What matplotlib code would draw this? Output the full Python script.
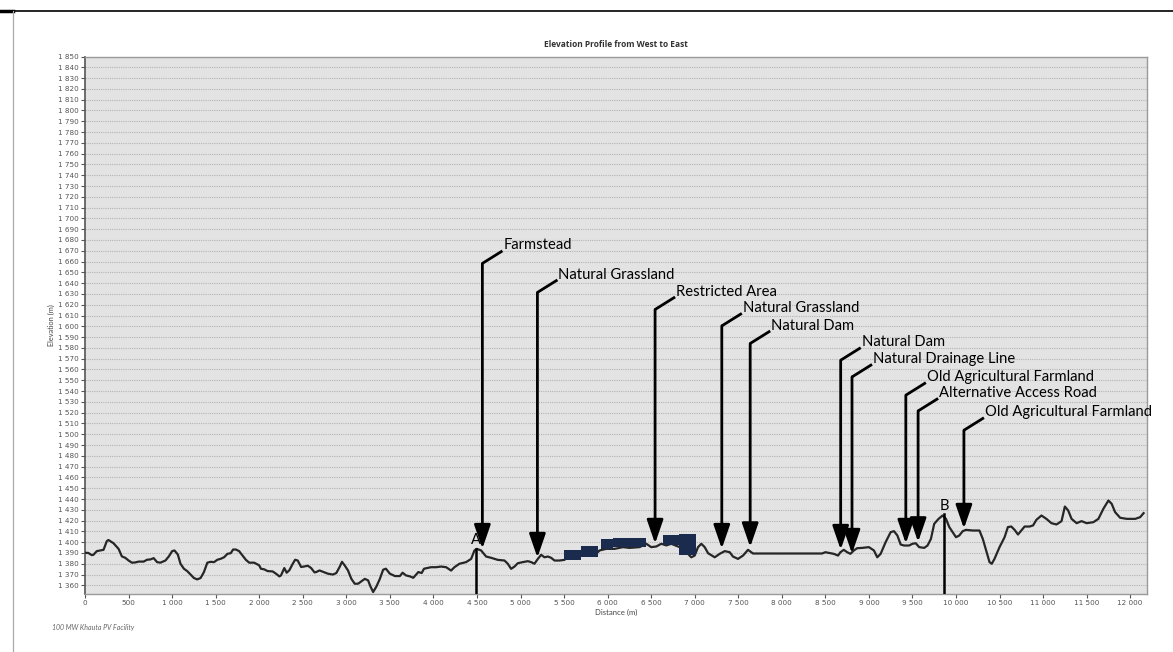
import numpy as np
import matplotlib
matplotlib.use('Agg')
import matplotlib.pyplot as plt
from matplotlib.ticker import FuncFormatter, MultipleLocator

# profile (distance m, elevation m)
distance = [0, 38, 77, 96, 135, 173, 212, 250, 269, 327, 385, 423, 462, 500, 538, 577, 615, 673,
            712, 750, 788, 827, 865, 923, 962, 1000, 1027, 1065, 1096, 1135, 1173, 1212, 1250, 1288,
            1327, 1365, 1404, 1442, 1481, 1519, 1558, 1596, 1635, 1673, 1700, 1731, 1769, 1808, 1846,
            1885, 1942, 2000, 2019, 2058, 2096, 2154, 2192, 2231, 2250, 2288, 2315, 2346, 2385, 2412,
            2442, 2481, 2519, 2558, 2596, 2635, 2654, 2692, 2731, 2788, 2846, 2885, 2923, 2950, 2981,
            3019, 3058, 3096, 3135, 3173, 3212, 3250, 3277, 3308, 3346, 3385, 3423, 3454, 3500, 3558,
            3615, 3646, 3685, 3731, 3769, 3827, 3865, 3892, 3973, 4031, 4088, 4146, 4203, 4241, 4299,
            4375, 4433, 4471, 4498, 4548, 4605, 4663, 4739, 4816, 4854, 4892, 4931, 4969, 5026, 5084,
            5122, 5160, 5199, 5237, 5275, 5314, 5352, 5390, 5448, 5505, 5543, 5639, 5735, 5812, 5869,
            5907, 5984, 6080, 6176, 6252, 6367, 6444, 6501, 6559, 6616, 6674, 6731, 6827, 6904, 6961,
            7000, 7038, 7076, 7115, 7153, 7230, 7287, 7345, 7402, 7439, 7497, 7555, 7612, 7670, 8462,
            8500, 8538, 8596, 8646, 8673, 8712, 8750, 8788, 8827, 8865, 8923, 9000, 9058, 9096, 9135,
            9192, 9250, 9288, 9327, 9365, 9404, 9462, 9500, 9538, 9577, 9635, 9673, 9712, 9750, 9800,
            9846, 9885, 9923, 9962, 10000, 10038, 10077, 10115, 10192, 10269, 10308, 10346, 10385,
            10411, 10442, 10500, 10558, 10596, 10635, 10673, 10712, 10750, 10788, 10846, 10885, 10923,
            10981, 11038, 11096, 11154, 11212, 11250, 11288, 11327, 11385, 11442, 11500, 11577, 11635,
            11692, 11750, 11788, 11827, 11885, 11962, 12058, 12115, 12154]
elevation = [1390.2, 1390, 1388, 1388.3, 1391.7, 1392.3, 1392.9, 1401, 1402, 1399, 1393.8, 1386.8,
             1385.5, 1383, 1381, 1381.2, 1382, 1382, 1383.7, 1384, 1385.2, 1381.5, 1381, 1383, 1386.8,
             1391.7, 1392.3, 1388.6, 1380, 1375.4, 1373.2, 1370, 1366.8, 1365.5, 1366.8, 1372.3, 1381,
             1381.8, 1381.5, 1383.7, 1384.6, 1386, 1389.2, 1389.8, 1393.2, 1393.2, 1391.7, 1387.7,
             1383.7, 1381, 1381, 1378.5, 1375.4, 1374.8, 1373.2, 1372.9, 1370.8, 1368.3, 1369.2, 1376,
             1371.7, 1374, 1380, 1383.7, 1383, 1377, 1377.5, 1378.2, 1376, 1372, 1372.3, 1373.8, 1372.6,
             1370.8, 1370, 1371.4, 1377, 1381.8, 1378.5, 1373.8, 1366, 1361.5, 1361.5, 1363.7, 1366,
             1364.6, 1359, 1353.8, 1359, 1366, 1374.5, 1375.4, 1370.8, 1368.6, 1368.6, 1371.7, 1369.2,
             1368.3, 1367, 1372.3, 1371.4, 1375.4, 1376.8, 1376.8, 1377.4, 1376.8, 1373.7, 1376.8, 1380,
             1381.5, 1384.5, 1392.3, 1393.8, 1392.3, 1386.7, 1385.5, 1383.6, 1383, 1380, 1375.3, 1377.4,
             1380.5, 1381.5, 1382.4, 1381.5, 1380, 1384.5, 1388.3, 1386, 1386.7, 1385.5, 1383, 1383,
             1383.6, 1386.7, 1387.6, 1389.2, 1389.2, 1389.2, 1392.3, 1393.8, 1393.8, 1395.4, 1394.7,
             1395.4, 1398.5, 1395.4, 1396, 1398.5, 1397, 1398.5, 1395.4, 1390.7, 1386, 1387.6, 1395.4,
             1398.5, 1395.4, 1389.8, 1386, 1389.2, 1391.7, 1390.7, 1386.7, 1384.5, 1387.6, 1392.9,
             1389.5, 1389.5, 1390.7, 1390.1, 1389.2, 1387.6, 1390.7, 1392.9, 1390.7, 1389.2, 1392.3,
             1394.4, 1394.7, 1395.4, 1392.3, 1386, 1389.2, 1400, 1409.3, 1410.2, 1406.2, 1397.8, 1396.9,
             1396.9, 1398.5, 1399, 1395.4, 1394.7, 1396.9, 1403, 1417, 1421.6, 1424.7, 1421.6, 1414,
             1409.3, 1404.6, 1406.2, 1410.2, 1411.4, 1410.8, 1410.8, 1403, 1392.3, 1381.5, 1380, 1384.5,
             1395.4, 1404.6, 1414, 1414.5, 1411.4, 1407.1, 1410.8, 1414.5, 1414.5, 1415.5, 1420.7,
             1424.7, 1421.6, 1417.6, 1416.4, 1419.5, 1433, 1429.4, 1421.6, 1417.6, 1419.5, 1417.6,
             1418.5, 1421.6, 1430.9, 1438.6, 1435.5, 1427.8, 1422.6, 1421.6, 1421.6, 1423.2, 1426.9]

# callouts: label, distance, elevation at arrow tip, elevation where the leader bends
callout_labels = ['Farmstead', 'Natural Grassland', 'Restricted Area', 'Natural Grassland',
                  'Natural Dam', 'Natural Dam', 'Natural Drainage Line', 'Old Agricultural Farmland',
                  'Alternative Access Road', 'Old Agricultural Farmland']
callout_dist = [4562, 5194, 6545, 7311, 7637, 8676, 8806, 9424, 9565, 10091]
callout_tip = [1394, 1385.7, 1398.7, 1394, 1395.5, 1393.1, 1389.4, 1398.7, 1400.2, 1412.6]
callout_top = [1658.3, 1631.4, 1615.6, 1600.4, 1584.1, 1568.6, 1553.1, 1536.2, 1521.6, 1503.7]

# start / end markers
point_labels = ['A', 'B']
point_dist = [4493, 9861]
point_elev = [1393.8, 1425.8]

# dark placemark boxes along the profile (left, right, bottom, top)
box_left = [5501, 5693, 5923, 6057, 6632, 6824]
box_right = [5693, 5884, 6057, 6441, 6824, 7016]
box_bottom = [1383.2, 1386.3, 1394.0, 1395.5, 1397.1, 1387.8]
box_top = [1392.5, 1396.2, 1403.3, 1404.2, 1406.4, 1408.0]

y_min, y_max = 1352, 1850
x_max = 12190

fig = plt.figure(figsize=(11.73, 6.52), dpi=100)
ax = fig.add_axes([0.0725, 0.089, 0.9051, 0.8243])
ax.set_facecolor('#e3e3e3')

for y in np.arange(1360, 1851, 10):
    ax.axhline(y, color='#b4b4b4', lw=0.8, ls=(0, (1, 1)), zorder=1)

ax.plot(distance, elevation, color='#262626', lw=1.6, zorder=3)

ax.bar(box_left, np.array(box_top) - np.array(box_bottom),
       width=np.array(box_right) - np.array(box_left), bottom=box_bottom,
       align='edge', color='#1b2b4d', zorder=4)

leader_dx, leader_dy = 230, 11.6
for lab, d, tip, top in zip(callout_labels, callout_dist, callout_tip, callout_top):
    ax.annotate('', xy=(d, tip), xytext=(d, top),
                arrowprops=dict(arrowstyle='-|>,head_length=1.45,head_width=0.5', lw=2,
                                color='black', shrinkA=0, shrinkB=0, mutation_scale=10),
                zorder=6)
    ax.plot([d, d + leader_dx], [top, top + leader_dy], color='black', lw=2,
            solid_capstyle='butt', zorder=6)
    ax.text(d + leader_dx + 10, top + leader_dy + 5, lab, fontsize=10.6, family='Lato',
            ha='left', va='center', color='black', zorder=7)

for lab, d, e in zip(point_labels, point_dist, point_elev):
    ax.plot([d, d], [y_min, e], color='black', lw=1.8, zorder=5)
    ax.text(d, e + 8, lab, fontsize=10.6, family='Lato', ha='center', va='center', zorder=7)

ax.set_xlim(0, x_max)
ax.set_ylim(y_min, y_max)
ax.xaxis.set_major_locator(MultipleLocator(500))
ax.set_yticks(np.arange(1360, 1851, 10))
fmt = FuncFormatter(lambda v, p: '{:,}'.format(int(v)).replace(',', ' '))
ax.xaxis.set_major_formatter(fmt)
ax.yaxis.set_major_formatter(fmt)
ax.tick_params(labelsize=5.2, colors='#555555', length=3, width=0.8, pad=1.5)

for side in ['top', 'right', 'bottom']:
    ax.spines[side].set_color('#9a9a9a')
    ax.spines[side].set_linewidth(1)
ax.spines['left'].set_color('#555555')
ax.spines['left'].set_linewidth(1.2)

ax.set_title('Elevation Profile from West to East', fontsize=6, fontweight='bold',
             family='Open Sans', color='#333333', pad=7)
ax.set_xlabel('Distance (m)', fontsize=5.6, family='Lato', color='#444444', labelpad=2)
ax.set_ylabel('Elevation (m)', fontsize=5.3, family='Lato', color='#444444', labelpad=2.5)

fig.text(0.044, 0.038, '100 MW Khauta PV Facility', fontsize=5, style='italic',
         family='Lato', color='#666666', ha='left', va='center')

# page frame
fig.add_artist(plt.Line2D([0, 1], [0.9836, 0.9836], color='black', lw=1.2))
fig.add_artist(plt.Line2D([0, 0.0113], [0.9836, 0.9836], color='black', lw=2.5))
fig.add_artist(plt.Line2D([0.0113, 0.0113], [0, 0.9836], color='#aaaaaa', lw=0.9))

plt.savefig('out.png', dpi=100)
plt.close()
